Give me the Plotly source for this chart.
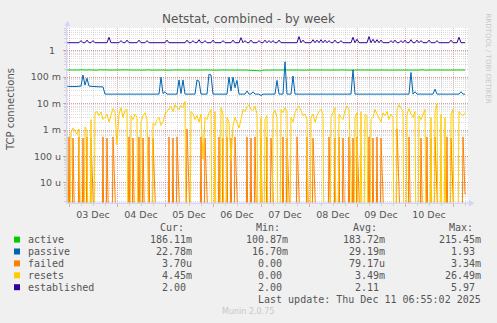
import plotly.graph_objects as go
import pandas as pd

# ---------------- data (hourly samples, Dec 2 23:00 -> Dec 11 06:00) ----------------
start_time = "2025-12-02 23:00"
n_points = 200

active = [
    0.186, 0.184, 0.188, 0.185, 0.187, 0.183, 0.186, 0.189, 0.184, 0.186,
    0.185, 0.188, 0.184, 0.187, 0.186, 0.183, 0.188, 0.185, 0.186, 0.184,
    0.187, 0.185, 0.189, 0.184, 0.186, 0.187, 0.183, 0.186, 0.188, 0.185,
    0.184, 0.187, 0.186, 0.185, 0.188, 0.184, 0.186, 0.183, 0.187, 0.185,
    0.186, 0.188, 0.184, 0.186, 0.185, 0.187, 0.184, 0.189, 0.185, 0.186,
    0.183, 0.186, 0.188, 0.185, 0.184, 0.187, 0.186, 0.185, 0.188, 0.184,
    0.186, 0.185, 0.187, 0.183, 0.186, 0.188, 0.184, 0.186, 0.185, 0.187,
    0.185, 0.188, 0.184, 0.186, 0.187, 0.183, 0.186, 0.185, 0.188, 0.184,
    0.186, 0.187, 0.185, 0.184, 0.188, 0.186, 0.183, 0.187, 0.185, 0.186,
    0.184, 0.188, 0.185, 0.186, 0.187, 0.184, 0.183, 0.172, 0.184, 0.186,
    0.187, 0.185, 0.188, 0.184, 0.186, 0.185, 0.187, 0.183, 0.186, 0.188,
    0.184, 0.186, 0.185, 0.187, 0.184, 0.189, 0.185, 0.186, 0.183, 0.186,
    0.188, 0.185, 0.184, 0.187, 0.186, 0.185, 0.188, 0.184, 0.186, 0.185,
    0.187, 0.183, 0.186, 0.188, 0.184, 0.186, 0.185, 0.187, 0.185, 0.188,
    0.184, 0.186, 0.187, 0.183, 0.186, 0.185, 0.188, 0.184, 0.186, 0.187,
    0.185, 0.184, 0.188, 0.186, 0.183, 0.187, 0.185, 0.186, 0.184, 0.188,
    0.185, 0.186, 0.187, 0.184, 0.186, 0.185, 0.188, 0.184, 0.187, 0.185,
    0.186, 0.188, 0.184, 0.186, 0.185, 0.187, 0.184, 0.189, 0.185, 0.186,
    0.183, 0.186, 0.188, 0.185, 0.184, 0.187, 0.186, 0.185, 0.188, 0.184,
    0.186, 0.185, 0.187, 0.183, 0.186, 0.188, 0.184, 0.186, 0.185, 0.186,
]

passive = [
    0.045, 0.044, 0.045, 0.044, 0.044, 0.045, 0.044, 0.046, 0.12, 0.05,
    0.09, 0.046, 0.045, 0.044, 0.044, 0.044, 0.043, 0.043, 0.043, 0.0228,
    0.0228, 0.0228, 0.0228, 0.0228, 0.0228, 0.0228, 0.0228, 0.0228, 0.0228, 0.0228,
    0.0228, 0.0228, 0.0228, 0.0228, 0.0228, 0.0228, 0.0228, 0.0228, 0.0228, 0.0228,
    0.0228, 0.0228, 0.0228, 0.0228, 0.0228, 0.0228, 0.0228, 0.10, 0.024, 0.028,
    0.0228, 0.0228, 0.0228, 0.0228, 0.0228, 0.0228, 0.078, 0.024, 0.078, 0.0228,
    0.0228, 0.0228, 0.0228, 0.0228, 0.0228, 0.078, 0.07, 0.0228, 0.0228, 0.0228,
    0.0228, 0.13, 0.12, 0.0228, 0.0228, 0.0228, 0.0228, 0.0228, 0.0228, 0.0228,
    0.0228, 0.10, 0.03, 0.10, 0.04, 0.075, 0.0228, 0.0228, 0.0228, 0.0228,
    0.03, 0.0228, 0.0228, 0.028, 0.0228, 0.0228, 0.0228, 0.020, 0.0228, 0.0228,
    0.0228, 0.0228, 0.0228, 0.0228, 0.0228, 0.075, 0.0228, 0.0228, 0.0228, 0.38,
    0.0228, 0.0228, 0.0228, 0.11, 0.0228, 0.0228, 0.0228, 0.0228, 0.0228, 0.0228,
    0.0228, 0.0228, 0.0228, 0.0228, 0.0228, 0.0228, 0.0228, 0.0228, 0.0228, 0.0228,
    0.0228, 0.0228, 0.0228, 0.0228, 0.0228, 0.0228, 0.0228, 0.0228, 0.0228, 0.0228,
    0.0228, 0.0228, 0.0228, 0.19, 0.0228, 0.0228, 0.0228, 0.0228, 0.0228, 0.0228,
    0.0228, 0.0228, 0.0228, 0.0228, 0.0228, 0.0228, 0.0228, 0.0228, 0.0228, 0.0228,
    0.0228, 0.0228, 0.0228, 0.0228, 0.0228, 0.0228, 0.0228, 0.0228, 0.0228, 0.0228,
    0.0228, 0.0228, 0.15, 0.0228, 0.028, 0.0228, 0.0228, 0.0228, 0.0228, 0.0228,
    0.0228, 0.0228, 0.0228, 0.0228, 0.035, 0.0228, 0.0228, 0.0228, 0.0228, 0.0228,
    0.0228, 0.0228, 0.0228, 0.0228, 0.0228, 0.0228, 0.0228, 0.028, 0.0228, 0.0228,
]

# failed and resets in milli-connections
failed_milli = [
    0, 0.55, 0, 0.5, 0, 0, 0.55, 0, 0.5, 0,
    0.55, 0, 0.5, 0, 0, 0, 0, 0, 0.55, 0,
    0.5, 0, 0, 0.55, 0, 0, 0, 0, 0, 0,
    0, 0.55, 0, 0.5, 0, 0, 0.55, 0, 0.5, 0,
    0, 0.55, 0, 0.5, 0, 0, 0, 0, 0, 0,
    0, 0.55, 0, 0.5, 0, 0.55, 0, 0, 0, 0,
    1.1, 0, 0, 0, 0, 0, 0, 0.55, 0, 0.5,
    0, 0, 0, 0, 0, 0, 0.55, 0, 0.5, 0,
    0.55, 0, 0.5, 0, 0.55, 0, 0, 0, 0, 0,
    0.55, 0, 0.5, 0, 0.55, 0, 0, 0.5, 0, 0,
    0.55, 0, 0.5, 0, 0, 0, 0, 0, 0.55, 0,
    0.5, 0, 0, 0, 0, 0.55, 0, 0, 0, 0,
    0.55, 0, 0, 0.5, 0, 0, 0, 0, 0, 0,
    0, 0.55, 0, 0, 0.5, 0, 0.55, 0, 0.5, 0,
    0, 0.55, 0, 0.5, 0, 0.55, 0, 0, 0, 0,
    0, 0.55, 0, 0.5, 0, 0.55, 0, 0.5, 0, 0,
    0, 0, 0, 0, 0, 1.1, 0, 0, 0, 0,
    0, 0.55, 0, 0, 0, 0, 0, 0.5, 0, 0,
    0.55, 0, 0.5, 0, 0.55, 0, 0, 0, 0, 0,
    0.55, 0, 0.5, 0, 0, 0, 0, 0, 0.55, 0.0037,
]

resets_milli = [
    1.0, 0, 0.8, 1.2, 0.9, 0.7, 1.1, 0, 0, 1.3,
    0.9, 0, 2.5, 0, 4.5, 5.0, 3.5, 4.8, 2.5, 3.0,
    4.0, 2.0, 3.5, 6.5, 5.0, 0.27, 4.0, 7.0, 3.0, 5.5,
    6.0, 0, 3.5, 2.5, 4.0, 3.0, 0, 2.0, 3.5, 4.5,
    2.5, 0, 0, 1.8, 1.5, 2.5, 3.0, 1.5, 2.0, 4.0,
    5.0, 6.5, 8.0, 5.0, 9.0, 7.0, 6.0, 8.5, 7.0, 12.0,
    0, 0, 5.0, 4.0, 2.5, 3.5, 2.0, 4.0, 0.08, 3.0,
    2.5, 4.5, 6.0, 0, 5.0, 0, 0, 7.0, 4.0, 0,
    3.0, 2.0, 0.07, 1.5, 3.0, 2.0, 1.2, 2.5, 6.0, 5.0,
    7.5, 9.0, 6.0, 5.5, 8.0, 4.0, 0, 3.0, 0, 2.5,
    3.5, 0, 0, 4.0, 5.5, 3.0, 0, 6.0, 4.5, 7.0,
    5.0, 0, 3.0, 2.0, 4.5, 6.5, 8.0, 5.5, 3.5, 4.0,
    2.5, 0, 3.0, 4.0, 2.0, 3.5, 5.0, 6.0, 4.0, 0,
    0, 0, 3.0, 5.0, 7.0, 0, 4.0, 3.0, 2.5, 5.5,
    8.0, 6.0, 0.015, 0, 3.0, 4.5, 0, 5.0, 0, 4.0,
    3.5, 0, 2.5, 3.0, 6.0, 4.0, 3.0, 2.0, 4.5, 3.5,
    5.0, 2.5, 4.0, 3.0, 0, 6.0, 9.0, 7.0, 5.0, 0,
    4.0, 6.5, 4.0, 3.0, 5.0, 0, 3.5, 2.5, 4.0, 6.0,
    0, 0, 3.0, 0, 5.0, 10.0, 0, 4.0, 0, 3.0,
    0, 0, 4.0, 6.0, 0, 0, 5.0, 4.0, 3.5, 4.45,
]

established = [
    2, 2, 2, 2, 2, 2, 2, 2.4, 2, 2,
    2.5, 2, 2, 2.4, 2, 2, 2, 2, 2, 2,
    2, 3.2, 2, 2, 2, 2, 2, 2.4, 2, 2,
    2.5, 2, 2, 2, 2, 2, 2.5, 2, 2, 2,
    2.4, 2, 2, 2, 2, 2, 2, 2, 2, 2,
    2.5, 2, 2, 2, 2, 2, 2, 2, 2, 2,
    2.5, 2, 2, 2.4, 2, 2, 2.6, 2, 2, 2.4,
    2, 2, 2, 2.5, 2, 2, 2, 2, 2.4, 2,
    2, 2, 2, 2.5, 2, 2, 2, 3.1, 2, 2.4,
    2, 2, 2.5, 2, 2, 2, 2.4, 2, 2, 2.5,
    2, 2.4, 2, 2.4, 2, 2, 2.5, 2, 2, 2,
    2, 2, 2, 2, 2, 2, 3.4, 2, 2.5, 2,
    2, 2, 2, 2.6, 2, 2.5, 2, 2.6, 2, 2.5,
    2, 2.4, 2, 2, 2.5, 2, 2, 2.4, 2, 2,
    2, 2, 2, 3.2, 2, 2.7, 2, 2, 2, 2,
    2, 3.4, 2, 2.7, 2, 2.6, 2, 2.5, 2, 2,
    2, 2, 2.4, 2, 2.5, 2, 2, 2.4, 2, 2.5,
    2, 2, 2.6, 2, 2, 2.5, 2, 2.4, 2, 2,
    2, 2.5, 2, 2, 2, 2.4, 2, 2, 2, 2,
    2, 2, 2.5, 2, 2, 2, 3.2, 2, 2, 2,
]

series_names = ["active", "passive", "failed", "resets", "established"]
series_colors = ["#00CC00", "#0066B3", "#FF8000", "#FFCC00", "#330099"]
legend_cur = ["186.11m", "22.78m", "3.70u", "4.45m", "2.00"]
legend_min = ["100.87m", "16.70m", "0.00", "0.00", "2.00"]
legend_avg = ["183.72m", "29.19m", "79.17u", "3.49m", "2.11"]
legend_max = ["215.45m", "1.93", "3.34m", "26.49m", "5.97"]

y_tick_vals = [1e-5, 1e-4, 1e-3, 1e-2, 1e-1, 1]
y_tick_text = ["10 u", "100 u", "1 m", "10 m", "100 m", "1\u00a0\u00a0"]

title_text = "Netstat, combined - by week"
y_title = "TCP connections"
last_update = "Last update: Thu Dec 11 06:55:02 2025"
footer = "Munin 2.0.75"
side_text = "RRDTOOL / TOBI OETIKER"

# ---------------- figure ----------------
W_FIG, H_FIG = 497, 323
L, R, T, B = 67, 468, 28, 203
PW, PH = R - L, B - T


def px(x):
    return (x - L) / PW


def py(y):
    return (B - y) / PH


times = pd.date_range(start_time, periods=n_points, freq="h")
FLOOR = 1e-12


def floor0(vals, scale=1.0):
    return [v * scale if v > 0 else FLOOR for v in vals]


series_values = [
    floor0(active),
    floor0(passive),
    floor0(failed_milli, 1e-3),
    floor0(resets_milli, 1e-3),
    floor0(established),
]

fig = go.Figure()
for name, col, vals in zip(series_names, series_colors, series_values):
    fig.add_trace(go.Scatter(x=times, y=vals, mode="lines", name=name,
                             line=dict(color=col, width=1), hoverinfo="skip"))

MGRID = "rgba(222,48,48,0.38)"
GRID = "rgba(143,143,143,0.30)"
AXIS = "#CFD6F8"
FONT = "#555555"

fig.update_layout(
    width=W_FIG, height=H_FIG,
    margin=dict(l=L, r=W_FIG - R, t=T, b=H_FIG - B),
    paper_bgcolor="#F0F0F0", plot_bgcolor="#FFFFFF",
    showlegend=False,
    font=dict(family="DejaVu Sans", size=10, color=FONT),
    title=dict(text=title_text, x=0.5, xref="container", y=1 - 19 / H_FIG,
               yref="container", xanchor="center", yanchor="middle",
               font=dict(family="DejaVu Sans", size=12, color=FONT)),
)

fig.update_xaxes(
    type="date", range=["2025-12-02 23:00", "2025-12-11 07:30"],
    tickmode="linear", tick0="2025-12-03 00:00", dtick=86400000,
    ticklabelmode="period", tickformat="%d %b",
    tickfont=dict(family="DejaVu Sans", size=9.5, color=FONT),
    showgrid=True, gridcolor=MGRID, griddash="1px,1px", gridwidth=1,
    minor=dict(dtick=21600000, tick0="2025-12-03 00:00", showgrid=True,
               gridcolor=GRID, griddash="1px,1px", gridwidth=1,
               ticks="outside", ticklen=2, tickcolor=GRID),
    ticks="outside", ticklen=3, tickcolor=MGRID,
    showline=True, linecolor=AXIS, linewidth=1, zeroline=False,
    fixedrange=True,
)
fig.update_yaxes(
    type="log", range=[-5.758, 0.857],
    tickmode="array", tickvals=y_tick_vals, ticktext=y_tick_text,
    tickfont=dict(family="DejaVu Sans", size=9.5, color=FONT),
    showgrid=True, gridcolor=MGRID, griddash="1px,1px", gridwidth=1,
    minor=dict(dtick="D1", showgrid=True, gridcolor=GRID,
               griddash="1px,1px", gridwidth=1,
               ticks="outside", ticklen=2, tickcolor=GRID),
    ticks="outside", ticklen=3, tickcolor=MGRID,
    showline=True, linecolor=AXIS, linewidth=1, zeroline=False,
    fixedrange=True,
)

shapes = []
# axis extensions and arrows
shapes.append(dict(type="line", xref="paper", yref="paper",
                   x0=px(67), x1=px(67), y0=py(203), y1=py(22),
                   line=dict(color=AXIS, width=1)))
shapes.append(dict(type="path", xref="paper", yref="paper",
                   path=f"M {px(64.5)},{py(26)} L {px(70.5)},{py(26)} L {px(67.5)},{py(20.5)} Z",
                   fillcolor=AXIS, line=dict(color=AXIS, width=0)))
shapes.append(dict(type="line", xref="paper", yref="paper",
                   x0=px(67), x1=px(472), y0=py(203), y1=py(203),
                   line=dict(color=AXIS, width=1)))
shapes.append(dict(type="path", xref="paper", yref="paper",
                   path=f"M {px(469)},{py(200)} L {px(469)},{py(206.5)} L {px(474.5)},{py(203.2)} Z",
                   fillcolor=AXIS, line=dict(color=AXIS, width=0)))

annotations = []
MONO = "DejaVu Sans Mono"
row_y = [239.6, 251.5, 263.4, 275.3, 287.2]
header_y = 227.7
col_end = [194, 290, 387, 483]
headers = ["Cur:", "Min:", "Avg:", "Max:"]
for h, ce in zip(headers, col_end):
    annotations.append(dict(text=h, x=px(ce - 36), y=py(header_y), xref="paper", yref="paper",
                            xanchor="left", yanchor="middle", showarrow=False,
                            font=dict(family=MONO, size=10, color=FONT)))


def cell(s):
    return s if s[-1].isalpha() else s + "\u00a0"


for k, name in enumerate(series_names):
    yy = row_y[k]
    shapes.append(dict(type="rect", xref="paper", yref="paper",
                       x0=px(14), x1=px(20), y0=py(yy - 3), y1=py(yy + 3),
                       fillcolor=series_colors[k], line=dict(width=0)))
    annotations.append(dict(text=name, x=px(26), y=py(yy), xref="paper", yref="paper",
                            xanchor="left", yanchor="middle", showarrow=False,
                            font=dict(family=MONO, size=10, color=FONT)))
    for vals, ce in zip([legend_cur, legend_min, legend_avg, legend_max], col_end):
        annotations.append(dict(text=cell(vals[k]), x=px(ce), y=py(yy), xref="paper", yref="paper",
                                xanchor="right", yanchor="middle", showarrow=False,
                                font=dict(family=MONO, size=10, color=FONT)))

annotations.append(dict(text=last_update, x=px(483), y=py(299.3), xref="paper", yref="paper",
                        xanchor="right", yanchor="middle", showarrow=False,
                        font=dict(family=MONO, size=10, color=FONT)))
annotations.append(dict(text=footer, x=px(248), y=py(311.7), xref="paper", yref="paper",
                        xanchor="center", yanchor="middle", showarrow=False,
                        font=dict(family="DejaVu Sans", size=8, color="#C8C8C8")))
annotations.append(dict(text=y_title, x=px(11), y=py(110), xref="paper", yref="paper",
                        xanchor="center", yanchor="middle", showarrow=False, textangle=-90,
                        font=dict(family="DejaVu Sans", size=10, color=FONT)))
annotations.append(dict(text=side_text, x=px(487.5), y=py(58), xref="paper", yref="paper",
                        xanchor="center", yanchor="middle", showarrow=False, textangle=90,
                        font=dict(family="DejaVu Sans", size=7, color="#C8C8C8")))

fig.update_layout(shapes=shapes, annotations=annotations)
fig.write_html("out.html")
